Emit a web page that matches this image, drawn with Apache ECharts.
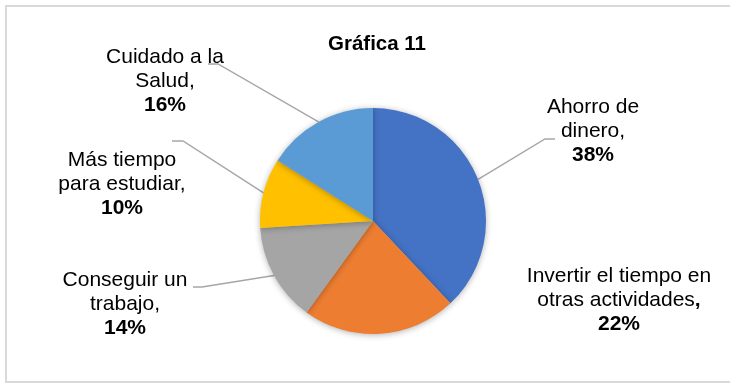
<!DOCTYPE html>
<html>
<head>
<meta charset="utf-8">
<script src="https://cdn.jsdelivr.net/npm/echarts@6/dist/echarts.min.js"></script>
<style>
html,body{margin:0;padding:0;background:#fff;}
#c{width:730px;height:383px;}
</style>
</head>
<body>
<div id="c"></div>
<script>
var categories = ['Ahorro de dinero', 'Invertir el tiempo en otras actividades', 'Conseguir un trabajo', 'Más tiempo para estudiar', 'Cuidado a la Salud'];
var labelNames = ['Ahorro de\ndinero,', 'Invertir el tiempo en\notras actividades{c|,}', 'Conseguir un\ntrabajo,', 'Más tiempo\npara estudiar,', 'Cuidado a la\nSalud,'];
var values = [38, 22, 14, 10, 16];
var colors = ['#4472C4', '#ED7D31', '#A5A5A5', '#FFC000', '#5B9BD5'];

// label anchor positions and leader-line offsets (styling only)
var labelPos = [[593, 131], [619, 300], [125, 304], [122, 184], [165, 81]];
var lineBend = [[-48, 8], null, [77, -17], [61, -43], [53, -17]];
var lineEnd = [[-38, 8], null, [68, -17], [50, -43], [43, -17]];
var showLine = [true, false, true, true, true];

var data = categories.map(function (c, i) {
  return {
    name: c,
    value: values[i],
    itemStyle: { color: colors[i] },
    labelLine: { show: showLine[i] }
  };
});

var chart = echarts.init(document.getElementById('c'), null, { renderer: 'canvas' });
chart.setOption({
  animation: false,
  backgroundColor: '#fff',
  title: {
    text: 'Gráfica 11',
    left: 323,
    top: 29,
    textStyle: { fontFamily: 'Liberation Sans', fontWeight: 'bold', fontSize: 20.5, color: '#000' }
  },
  graphic: [{
    type: 'rect',
    shape: { x: 6, y: 6, width: 730, height: 376 },
    style: { fill: 'none', stroke: '#d9d9d9', lineWidth: 2 },
    silent: true
  }],
  series: [{
    type: 'pie',
    center: [373, 221],
    radius: 113,
    startAngle: 90,
    clockwise: true,
    data: data,
    itemStyle: {
      borderWidth: 0,
      shadowBlur: 6,
      shadowColor: 'rgba(0,0,0,0.3)',
      shadowOffsetX: 0,
      shadowOffsetY: 1
    },
    label: {
      show: true,
      formatter: function (p) {
        return labelNames[p.dataIndex] + '\n{b|' + p.value + '%}';
      },
      fontFamily: 'Liberation Sans',
      fontSize: 21,
      lineHeight: 24,
      color: '#000',
      align: 'center',
      rich: {
        b: { fontFamily: 'Liberation Sans', fontSize: 21, fontWeight: 'bold', lineHeight: 24, color: '#000' },
        c: { fontFamily: 'Liberation Sans', fontSize: 21, fontWeight: 'bold', lineHeight: 24, color: '#000' }
      }
    },
    labelLine: {
      lineStyle: { color: '#a6a6a6', width: 1.4 }
    },
    labelLayout: function (p) {
      var i = p.dataIndex;
      var pos = labelPos[i];
      var res = { x: pos[0], y: pos[1], align: 'center', verticalAlign: 'middle' };
      if (lineBend[i] && p.labelLinePoints) {
        var a = p.labelLinePoints[0];
        res.labelLinePoints = [
          [a[0], a[1]],
          [pos[0] + lineBend[i][0], pos[1] + lineBend[i][1]],
          [pos[0] + lineEnd[i][0], pos[1] + lineEnd[i][1]]
        ];
      }
      return res;
    }
  }]
});
</script>
</body>
</html>
